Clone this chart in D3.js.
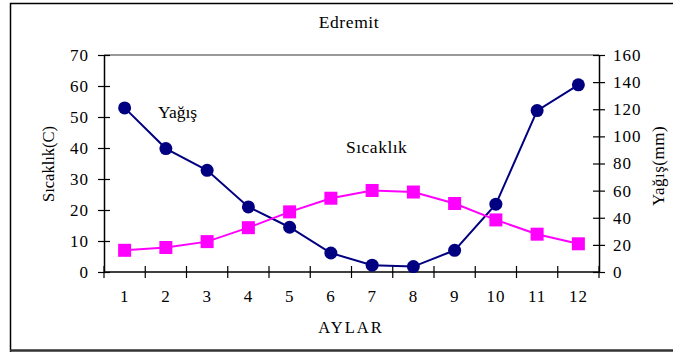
<!DOCTYPE html>
<html>
<head>
<meta charset="utf-8">
<script src="https://cdn.jsdelivr.net/npm/d3@7"></script>
<style>
  html, body { margin: 0; padding: 0; background: #fff; }
  svg text { font-family: "Liberation Serif", "Times New Roman", serif; fill: #000; }
</style>
</head>
<body>
<svg id="chart" width="673" height="352"></svg>
<script>
// Monthly climate normals for Edremit
const months = [1, 2, 3, 4, 5, 6, 7, 8, 9, 10, 11, 12];
const temperature = [7.0, 7.9, 9.8, 14.3, 19.4, 23.8, 26.3, 25.8, 22.1, 16.8, 12.2, 9.1]; // °C
const precipitation = [121, 91, 75, 48, 33, 14, 5, 4, 16, 50, 119, 138];            // mm
const tempTicks = [0, 10, 20, 30, 40, 50, 60, 70];
const rainTicks = [0, 20, 40, 60, 80, 100, 120, 140, 160];

const svg = d3.select("#chart");
const plot = { left: 104, right: 599, top: 55, bottom: 272 };
const FS = 17;

// outer frame
svg.append("path")
  .attr("d", `M10.5,352 V3.5 H673`)
  .attr("fill", "none").attr("stroke", "#000").attr("stroke-width", 1.5);
svg.append("line")
  .attr("x1", 10).attr("x2", 673).attr("y1", 350.5).attr("y2", 350.5)
  .attr("stroke", "#333").attr("stroke-width", 2.5);

const x = d3.scaleBand().domain(months).range([plot.left, plot.right]).padding(0);
const yT = d3.scaleLinear().domain([0, 70]).range([plot.bottom, plot.top]);
const yR = d3.scaleLinear().domain([0, 160]).range([plot.bottom, plot.top]);

// top edge of plot area
svg.append("line")
  .attr("x1", plot.left).attr("x2", plot.right)
  .attr("y1", plot.top).attr("y2", plot.top)
  .attr("stroke", "#999").attr("stroke-width", 2);

// left axis (temperature)
const gL = svg.append("g").attr("transform", `translate(${plot.left},0)`)
  .call(d3.axisLeft(yT).tickValues(tempTicks).tickSize(6).tickSizeOuter(0).tickPadding(9));
gL.selectAll(".tick line").clone().attr("x2", 6);
// right axis (precipitation)
const gR = svg.append("g").attr("transform", `translate(${plot.right},0)`)
  .call(d3.axisRight(yR).tickValues(rainTicks).tickSize(6).tickSizeOuter(0).tickPadding(8));
gR.selectAll(".tick line").clone().attr("x2", -6);
// bottom axis: ticks between months, labels centred on months
const gB = svg.append("g").attr("transform", `translate(0,${plot.bottom})`);
gB.append("line").attr("x1", plot.left).attr("x2", plot.right).attr("stroke", "#000").attr("stroke-width", 1.5);
const bounds = months.map(m => x(m)).concat([x(months[months.length - 1]) + x.bandwidth()]);
gB.selectAll("line.tk").data(bounds).join("line").attr("class", "tk")
  .attr("x1", d => d).attr("x2", d => d).attr("y1", -6).attr("y2", 6)
  .attr("stroke", "#000").attr("stroke-width", 1.2);
gB.selectAll("text.lbl").data(months).join("text").attr("class", "lbl")
  .attr("x", d => x(d) + x.bandwidth() / 2).attr("y", 30)
  .attr("text-anchor", "middle").attr("font-size", FS).attr("letter-spacing", 1).text(d => d);

[gL, gR].forEach(g => {
  g.select(".domain").attr("stroke", "#000").attr("stroke-width", 1.5);
  g.selectAll(".tick line").attr("stroke", "#000").attr("stroke-width", 1.2);
  g.selectAll(".tick text").attr("font-size", FS).attr("letter-spacing", 1)
    .attr("font-family", "Liberation Serif, serif").attr("fill", "#000");
});

const cx = d => x(d) + x.bandwidth() / 2;

// precipitation line (right axis)
svg.append("path")
  .attr("d", d3.line().x((d, i) => cx(months[i])).y(d => yR(d))(precipitation))
  .attr("fill", "none").attr("stroke", "#000080").attr("stroke-width", 2);
// temperature line (left axis)
svg.append("path")
  .attr("d", d3.line().x((d, i) => cx(months[i])).y(d => yT(d))(temperature))
  .attr("fill", "none").attr("stroke", "#FF00FF").attr("stroke-width", 2);

svg.selectAll("rect.sq").data(temperature).join("rect").attr("class", "sq")
  .attr("x", (d, i) => cx(months[i]) - 6.5).attr("y", d => yT(d) - 6.5)
  .attr("width", 13).attr("height", 13).attr("fill", "#FF00FF");
svg.selectAll("circle.pt").data(precipitation).join("circle").attr("class", "pt")
  .attr("cx", (d, i) => cx(months[i])).attr("cy", d => yR(d))
  .attr("r", 6.5).attr("fill", "#000080");

// titles and series labels
svg.append("text").attr("x", 349).attr("y", 28).attr("text-anchor", "middle")
  .attr("font-size", 17.5).attr("letter-spacing", 0.6).text("Edremit");
svg.append("text").attr("x", 351).attr("y", 333).attr("text-anchor", "middle")
  .attr("font-size", 16.5).attr("letter-spacing", 2).text("AYLAR");
svg.append("text").attr("transform", "translate(54,164) rotate(-90)")
  .attr("text-anchor", "middle").attr("font-size", 16.5).text("Sıcaklık(C)");
svg.append("text").attr("transform", "translate(664,166) rotate(-90)")
  .attr("text-anchor", "middle").attr("font-size", 17).attr("letter-spacing", 0.5).text("Yağış(mm)");
svg.append("text").attr("x", 158).attr("y", 118).attr("font-size", 17.5)
  .text("Yağış");
svg.append("text").attr("x", 346).attr("y", 153).attr("font-size", 17.5)
  .attr("letter-spacing", 0.5).text("Sıcaklık");
</script>
</body>
</html>
